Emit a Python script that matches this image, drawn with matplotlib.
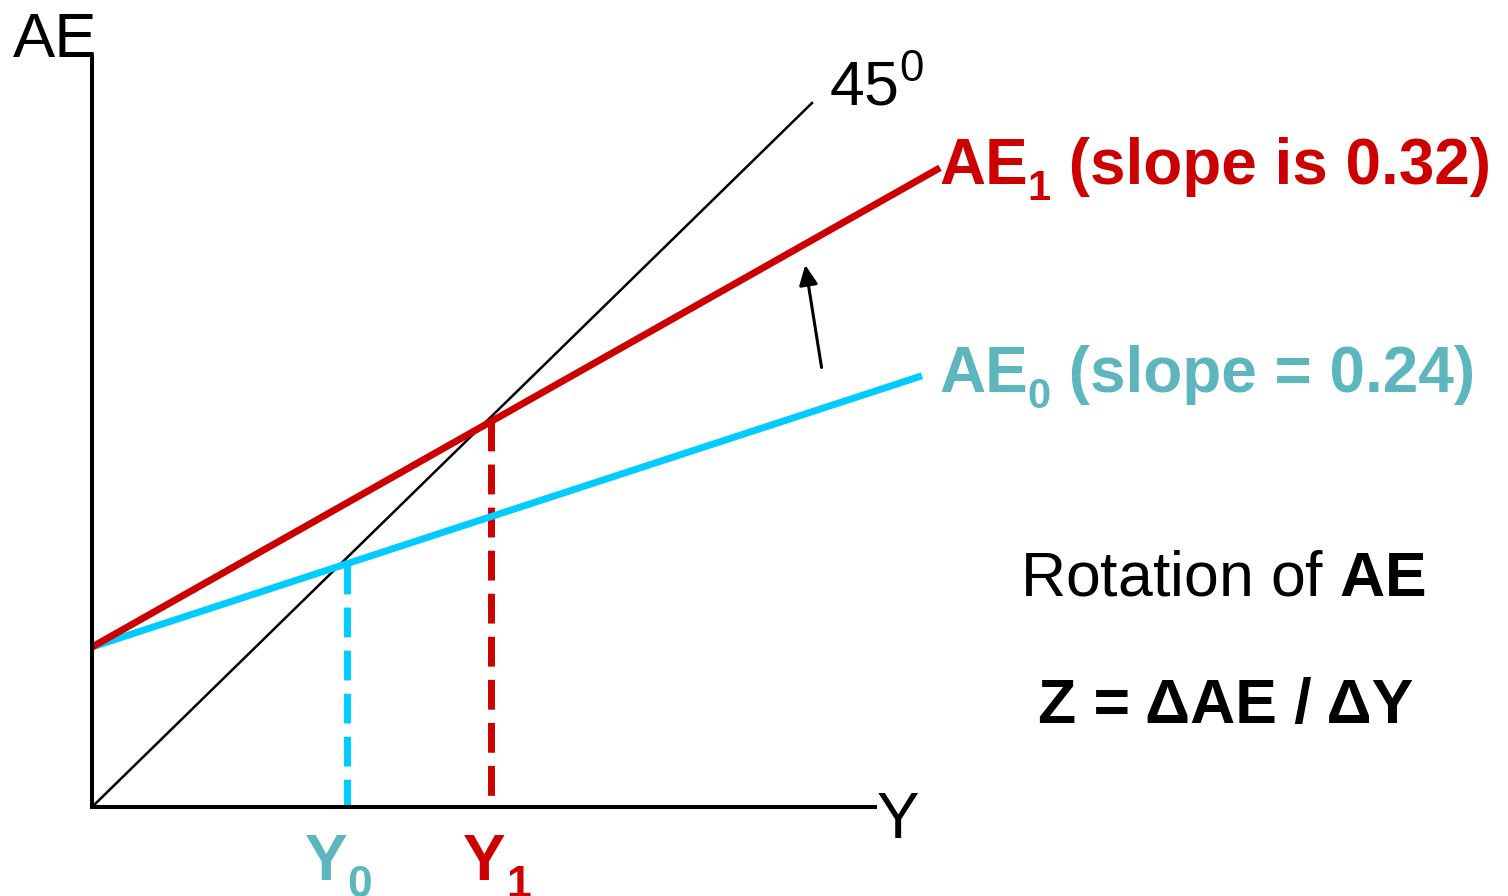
import numpy as np
import matplotlib
matplotlib.use("Agg")
import matplotlib.pyplot as plt

plt.rcParams['font.family'] = ['Liberation Sans', 'DejaVu Sans']
plt.rcParams['mathtext.fontset'] = 'custom'
plt.rcParams['mathtext.rm'] = 'Liberation Sans'
plt.rcParams['mathtext.bf'] = 'Liberation Sans:bold'
plt.rcParams['mathtext.default'] = 'regular'

RED = '#CC0000'
CYAN = '#00CCFF'
TEAL = '#5DB5BE'

# lines of the Keynesian cross (Y on x, AE on y)
diag_x = [0.0, 90.0]
diag_y = [0.0, 88.0]
ae0_x = [0.0, 103.75]
ae0_y = [20.0, 53.9]
ae1_x = [0.0, 106.0]
ae1_y = [20.0, 79.9]

# equilibrium incomes
Y0 = 31.9
Y1 = 49.9

x_axis_end = 97.9
y_axis_end = 93.75

fig = plt.figure(figsize=(15.08, 8.96), dpi=100)
ax = fig.add_axes([0, 0, 1, 1])
ax.set_xlim(-11.5, 177.0)
ax.set_ylim(-11.125, 100.875)
ax.set_axis_off()

# axes
ax.plot([0, 0], [0, y_axis_end], color='k', lw=2.9, solid_capstyle='projecting', zorder=5)
ax.plot([0, x_axis_end], [0, 0], color='k', lw=2.9, solid_capstyle='projecting', zorder=5)

# 45 degree line
ax.plot(diag_x, diag_y, color='k', lw=1.8, zorder=2)

# dashed drop lines to the income axis
top0 = np.interp(Y0, ae0_x, ae0_y)
top1 = np.interp(Y1, ae1_x, ae1_y)
ax.plot([Y0, Y0], [top0, 0], color=CYAN, lw=5, ls=(0, (4.3, 1.9)),
        dash_capstyle='butt', zorder=3)
ax.plot([Y1, Y1], [top1, 0], color=RED, lw=5, ls=(0, (4.3, 1.9)),
        dash_capstyle='butt', zorder=3)

# AE lines
ax.plot(ae0_x, ae0_y, color=CYAN, lw=5, solid_capstyle='butt', zorder=4)
ax.plot(ae1_x, ae1_y, color=RED, lw=5, solid_capstyle='butt', zorder=4)

# rotation arrow
ax.annotate('', xy=(89.1, 68.1), xytext=(91.25, 54.6),
            arrowprops=dict(arrowstyle='-|>,head_length=0.6,head_width=0.28',
                            color='k', lw=2.2, mutation_scale=20))

fig.canvas.draw()
renderer = fig.canvas.get_renderer()
to_data = ax.transData.inverted()


def right_edge(t):
    bb = t.get_window_extent(renderer)
    return to_data.transform((bb.x1, bb.y0))[0]


def sub_label(x, y, main, sub, rest='', size=46, sub_size=30, drop=2.0, color='k'):
    kw = dict(fontweight='bold', color=color, va='baseline', ha='left')
    t = ax.text(x, y, main, fontsize=size, **kw)
    s = ax.text(right_edge(t), y - drop, sub, fontsize=sub_size, **kw)
    if rest:
        ax.text(right_edge(s), y, rest, fontsize=size, **kw)


# labels
ax.text(-9.9, 93.75, 'AE', fontsize=45.5, va='baseline', ha='left')
ax.text(98.1, -3.9, 'Y', fontsize=46, va='baseline', ha='left')
ax.text(92.1, 87.75, '45$^0$', fontsize=45, va='baseline', ha='left')

sub_label(105.9, 77.9, 'AE', '1', ' (slope is 0.32)', color=RED)
sub_label(105.9, 51.9, 'AE', '0', ' (slope = 0.24)', color=TEAL)

sub_label(26.6, -9.1, 'Y', '0', sub_size=32, drop=2.1, color=TEAL)
sub_label(46.4, -9.1, 'Y', '1', sub_size=32, drop=2.1, color=RED)

ax.text(116.0, 26.5, r'Rotation of $\mathbf{AE}$', fontsize=45,
        va='baseline', ha='left')
ax.text(118.25, 10.5, 'Z = \u0394AE / \u0394Y', fontsize=45, fontweight='bold',
        va='baseline', ha='left')

fig.savefig('out.png', dpi=100)
